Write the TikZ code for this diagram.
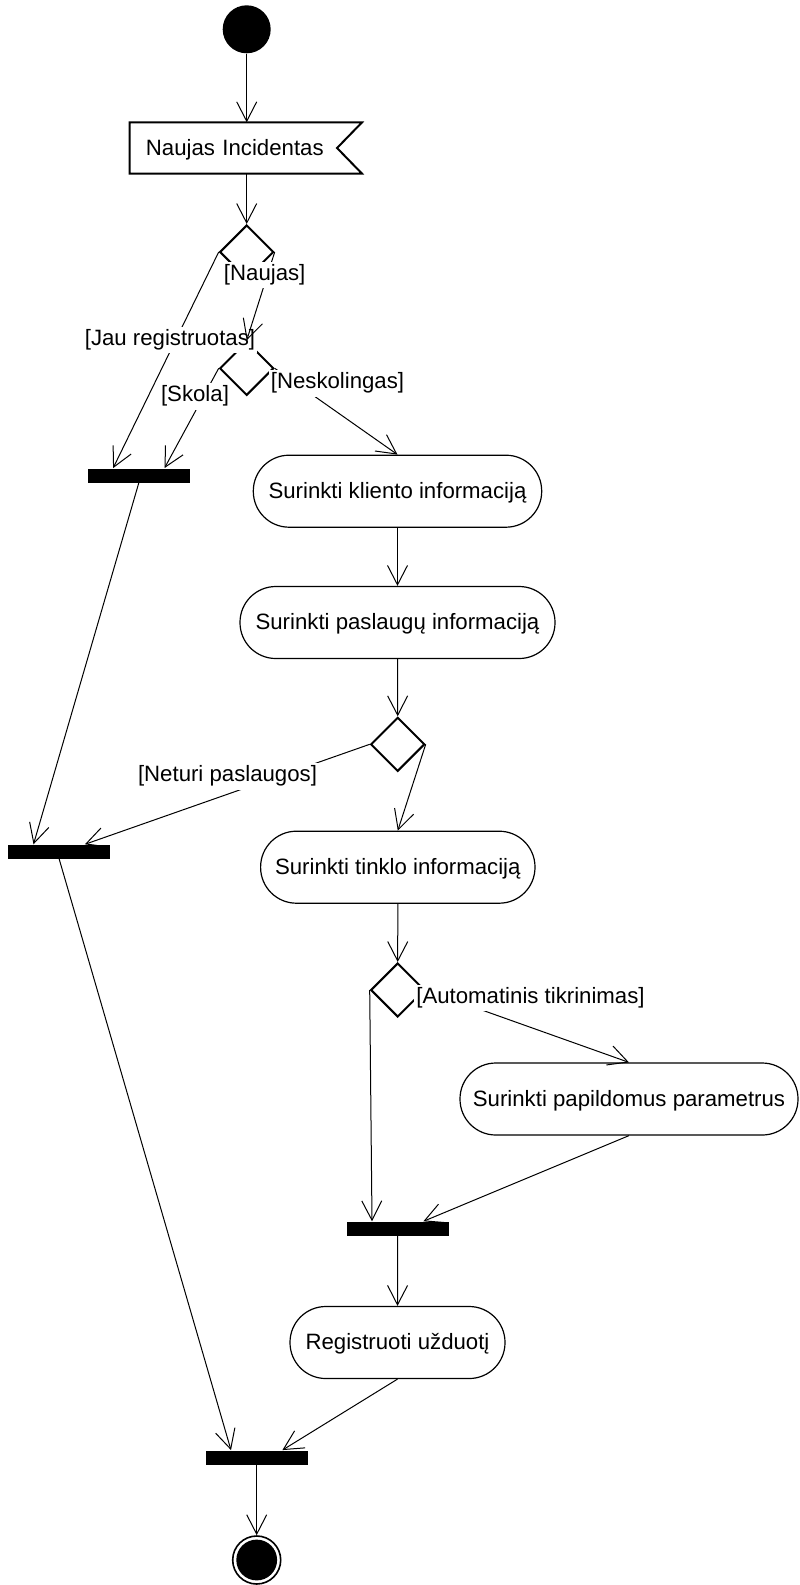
\documentclass[tikz,border=0pt]{standalone}
\usepackage{fontspec}
\setmainfont{Liberation Sans}
\usetikzlibrary{calc, positioning, arrows.meta, shapes.geometric}

\begin{document}
\begin{tikzpicture}[x=0.5pt, y=-0.5pt,
  font=\fontsize{11.1}{13.3}\selectfont,
  flow/.style={line width=0.5pt, -{Straight Barb[length=9.7pt, width=10pt]}},
  action/.style={rectangle, draw, line width=0.6pt, rounded corners=17.9pt, minimum height=36pt, inner sep=0pt, text height=0.716em, text depth=0pt},
  choice/.style={diamond, draw, line width=1pt, minimum width=27pt, minimum height=27pt, inner sep=0pt},
  bar/.style={rectangle, fill=black, minimum width=51pt, minimum height=7pt, inner sep=0pt},
  guard/.style={fill=white, inner xsep=1pt, inner ysep=2pt, text height=0.73em, text depth=0.21em}]
\useasboundingbox (0,0) rectangle (799,1585);
% Start and signal
\node[circle, fill, minimum size=24pt, inner sep=0pt] (init) at (246.7,29.3) {};
\node[minimum height=25.3pt, inner xsep=8pt, text width=99.85pt, align=left, text height=0.716em, text depth=0pt] (sig) at (245.8,148) {Naujas Incidentas};
\draw[line width=1pt] (sig.north west) -- (sig.north east) -- ($(sig.east)+(-25,0)$) -- (sig.south east) -- (sig.south west) -- cycle;
% Decisions
\node[choice] (d1) at (246.7,252) {};
\node[choice] (d2) at (246.7,368.3) {};
\node[choice] (d3) at (397.7,744.3) {};
\node[choice] (d4) at (397.7,990) {};
% Actions
\node[action, minimum width=144.2pt] (a1) at (397.5,491.2) {Surinkti kliento informaciją};
\node[action, minimum width=157.5pt] (a2) at (397.5,622.5) {Surinkti paslaugų informaciją};
\node[action, minimum width=137.2pt] (a3) at (397.8,867.2) {Surinkti tinklo informaciją};
\node[action, minimum width=169pt] (a4) at (629,1099) {Surinkti papildomus parametrus};
\node[action, minimum width=107.5pt] (a5) at (397.5,1342.5) {Registruoti užduotį};
% Join bars
\node[bar] (f1) at (138.8,475.5) {};
\node[bar] (f2) at (59.2,851.7) {};
\node[bar] (f3) at (397.7,1228.7) {};
\node[bar] (f4) at (256.7,1457.5) {};
% End
\node[circle, draw, line width=0.8pt, minimum size=24pt, inner sep=0pt,
  path picture={\fill (path picture bounding box.center) circle (10.2pt);}] (fin) at (256.7,1560) {};
% Flows with guards
\draw[flow] (init) -- (init |- sig.north);
\draw[flow] (d1 |- sig.south) -- (d1.north);
\draw[flow] (d1.west) -- ($(f1.north west)!0.25!(f1.north east)$);
\node[guard] (gJau) at (170,340) {[Jau registruotas]};
\draw[flow] (d1.east) -- (d2.north);
\node[guard] (gNaujas) at (264.7,275) {[Naujas]};
\draw[flow] (d2.west) -- ($(f1.north west)!0.75!(f1.north east)$);
\node[guard] (gSkola) at (195,396.7) {[Skola]};
\draw[flow] (d2.east) -- (a1.north);
\node[guard] (gNesk) at (337.5,383.3) {[Neskolingas]};
\draw[flow] (a1.south) -- (a2.north);
\draw[flow] (a2.south) -- (d3.north);
\draw[flow] (f1.south) -- ($(f2.north west)!0.25!(f2.north east)$);
\draw[flow] (d3.west) -- ($(f2.north west)!0.75!(f2.north east)$);
\node[guard] (gNeturi) at (227.5,776.7) {[Neturi paslaugos]};
\draw[flow] (d3.east) -- (a3.north);
\draw[flow] (a3.south) -- (d4.north);
\draw[flow] (d4.west) -- ($(f3.north west)!0.25!(f3.north east)$);
\draw[flow] (d4.east) -- (a4.north);
\node[guard] (gAuto) at (530.5,998) {[Automatinis tikrinimas]};
\draw[flow] (a4.south) -- ($(f3.north west)!0.75!(f3.north east)$);
\draw[flow] (f3.south) -- (a5.north);
\draw[flow] (f2.south) -- ($(f4.north west)!0.25!(f4.north east)$);
\draw[flow] (a5.south) -- ($(f4.north west)!0.75!(f4.north east)$);
\draw[flow] (f4.south) -- (fin.north);
\end{tikzpicture}
\end{document}
